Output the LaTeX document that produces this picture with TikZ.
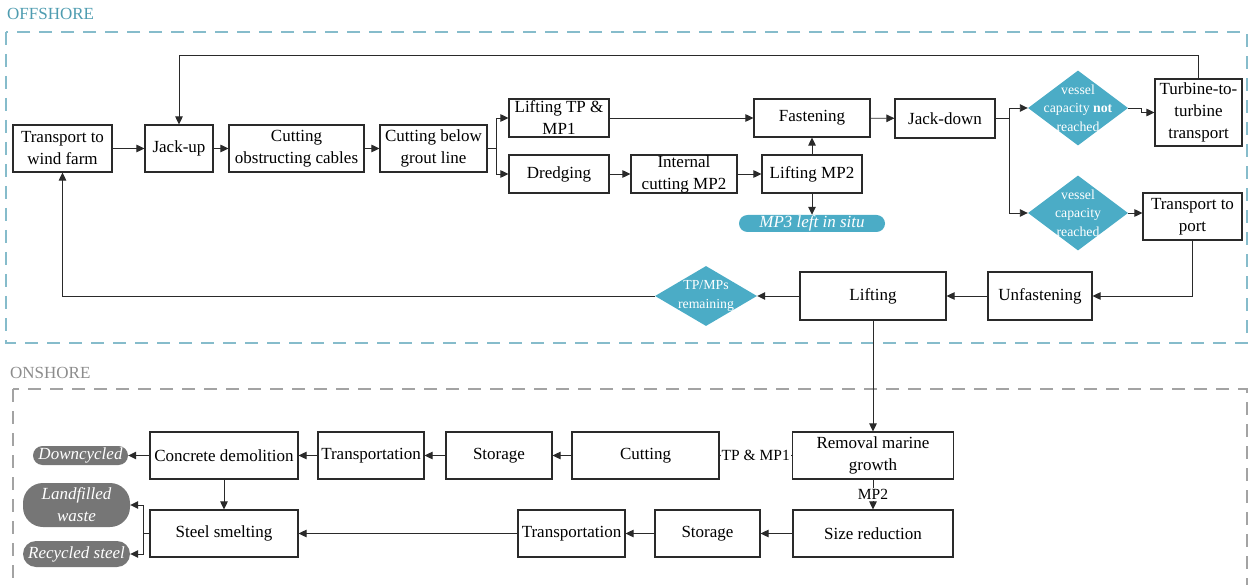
\documentclass[tikz,border=0pt]{standalone}
\usepackage{fontspec}
\setmainfont{Liberation Serif}
\usetikzlibrary{shapes.geometric,arrows.meta,calc}
\definecolor{seablue}{HTML}{4BACC6}
\definecolor{seaframe}{HTML}{86BCCB}
\definecolor{seatext}{HTML}{4E9CB0}
\definecolor{landframe}{HTML}{A3A3A3}
\definecolor{landtext}{HTML}{8C8C8C}
\definecolor{pillgray}{HTML}{767676}
\definecolor{edge}{HTML}{2A2A2A}
\newcommand{\mainsize}{\fontsize{17}{22}\selectfont}
\newcommand{\smallsize}{\fontsize{13.8}{18.5}\selectfont}
\tikzset{
  stepbox/.style={draw=edge, line width=1.1pt, fill=white, align=center,
    inner sep=0pt, font=\mainsize},
  decision/.style={diamond, fill=seablue, draw=none, inner sep=0pt},
  decisiontext/.style={text=white, align=center, font=\smallsize, inner sep=0pt},
  bluepill/.style={fill=seablue, rounded corners=8.5pt, text=white,
    font=\mainsize\itshape, inner sep=0pt, align=center},
  graypill/.style={fill=pillgray, text=white, font=\mainsize\itshape,
    inner sep=0pt, align=center},
  arr/.style={draw=edge, line width=0.9pt, -{Triangle[length=8pt,width=7.5pt]}},
  plain/.style={draw=edge, line width=0.9pt},
  lbl/.style={fill=white, inner sep=1pt, font=\fontsize{15.5}{18}\selectfont},
  frame/.style={dashed, dash pattern=on 13pt off 9pt, line width=1.6pt},
  sz/.style 2 args={minimum width=#1pt, minimum height=#2pt},
}
\begin{document}
\begin{tikzpicture}[x=1pt, y=-1pt]
\useasboundingbox (0,0) rectangle (1250,585);
\clip (0,0) rectangle (1250,585);

% zone frames
\draw[frame, draw=seaframe] (6,32) rectangle (1247,343);
\node[anchor=west, text=seatext, font=\mainsize, inner sep=0pt] (offlbl) at (7,14) {OFFSHORE};
\draw[frame, draw=landframe] (13,389) rectangle (1247,610);
\node[anchor=west, text=landtext, font=\mainsize, inner sep=0pt] (onlbl) at (10,373) {ONSHORE};

% offshore steps
\node[stepbox, sz={99}{47}] (tw) at (62.5,148.5) {Transport to\\wind farm};
\node[stepbox, sz={68}{47}] (ju) at (179,148.5) {Jack-up};
\node[stepbox, sz={135}{47}] (coc) at (296.5,148.5) {Cutting\\obstructing cables};
\node[stepbox, sz={107}{47}] (cbg) at (433.5,148.5) {Cutting below\\grout line};
\node[stepbox, sz={100}{38}] (ltp) at (559,118) {Lifting TP \&\\MP1};
\node[stepbox, sz={100}{38}] (dr) at (559,174) {Dredging};
\node[stepbox, sz={106}{38}] (icm) at (684,174) {Internal\\cutting MP2};
\node[stepbox, sz={100}{38}] (lm2) at (812,174) {Lifting MP2};
\node[stepbox, sz={116}{38}] (fa) at (812,118) {Fastening};
\node[bluepill, sz={146}{17}] (mp3) at (812,223.5) {MP3 left in situ};
\node[stepbox, sz={100}{39}] (jd) at (945,118.5) {Jack-down};
\node[decision, sz={100}{75}] (d1) at (1078,108) {};
\node[decisiontext] (d1t) at (d1) {vessel\\capacity \textbf{not}\\reached};
\node[stepbox, sz={87}{67}] (tt) at (1198.5,112.5) {Turbine-to-\\turbine\\transport};
\node[decision, sz={100}{75}] (d2) at (1078,213) {};
\node[decisiontext] (d2t) at (d2) {vessel\\capacity\\reached};
\node[stepbox, sz={99}{47}] (tp) at (1192.5,216.5) {Transport to\\port};
\node[stepbox, sz={104}{48}] (un) at (1040,296) {Unfastening};
\node[stepbox, sz={146}{48}] (li) at (873,296) {Lifting};
\node[decision, sz={102}{60}] (d3) at (706,296) {};
\node[decisiontext] (d3t) at (d3) {TP/MPs\\remaining};

% offshore connectors
\coordinate (loop) at (0,55);
\coordinate (sp1) at (496,148.5);
\coordinate (sp2) at (1009,118.5);
\draw[arr] (tw) -- (ju);
\draw[arr] (ju) -- (coc);
\draw[arr] (coc) -- (cbg);
\draw[plain] (cbg.east) -- (sp1);
\draw[arr] (sp1) |- (ltp.west);
\draw[arr] (sp1) |- (dr.west);
\draw[arr] (ltp.east) -- (fa.west |- ltp.east);
\draw[arr] (dr) -- (icm);
\draw[arr] (icm) -- (lm2);
\draw[arr] (lm2.north) -- (fa.south);
\draw[arr] (lm2.south) -- (mp3.north);
\draw[arr] (fa) -- (jd);
\draw[plain] (jd.east) -- (sp2);
\draw[arr] (sp2) |- (d1.west);
\draw[arr] (sp2) |- (d2.west);
\draw[arr] (d1.east) -- ++(13,0) |- (tt.west);
\draw[arr] (d2.east) -- (tp.west |- d2.east);
\draw[arr] (tt.north) |- (ju.north |- loop) -- (ju.north);
\draw[arr] (tp.south) |- (un.east);
\draw[arr] (un) -- (li);
\draw[arr] (li) -- (d3);
\draw[arr] (d3.west) -| (tw.south);

% onshore steps
\node[stepbox, sz={161}{47}] (rmg) at (873,455.5) {Removal marine\\growth};
\node[stepbox, sz={147}{47}] (cu) at (645.5,455.5) {Cutting};
\node[stepbox, sz={106}{47}] (st1) at (499,455.5) {Storage};
\node[stepbox, sz={106}{47}] (tr1) at (371,455.5) {Transportation};
\node[stepbox, sz={148}{47}] (cd) at (224,455.5) {Concrete demolition};
\node[graypill, sz={95}{19}, rounded corners=9.5pt] (dc) at (80.5,455.5) {Downcycled};
\node[graypill, sz={107}{44}, rounded corners=20pt] (lw) at (76.5,505) {Landfilled\\waste};
\node[graypill, sz={107}{26}, rounded corners=13pt] (rs) at (76.5,554) {Recycled steel};
\node[stepbox, sz={148}{47}] (ss) at (224,533.5) {Steel smelting};
\node[stepbox, sz={160}{47}] (sr) at (873,533.5) {Size reduction};
\node[stepbox, sz={105}{47}] (st2) at (707.5,533.5) {Storage};
\node[stepbox, sz={107}{47}] (tr2) at (571.5,533.5) {Transportation};

% onshore connectors
\coordinate (sp3) at (143,533.5);
\draw[arr] (li.south) -- (rmg.north);
\draw[arr] (rmg.west) -- node[lbl] (lblA) {TP \& MP1} (cu.east);
\draw[arr] (cu) -- (st1);
\draw[arr] (st1) -- (tr1);
\draw[arr] (tr1) -- (cd);
\draw[arr] (cd) -- (dc);
\draw[arr] (cd.south) -- (ss.north);
\draw[arr] (rmg.south) -- node[lbl] (lblB) {MP2} (sr.north);
\draw[arr] (sr) -- (st2);
\draw[arr] (st2) -- (tr2);
\draw[arr] (tr2) -- (ss);
\draw[plain] (ss.west) -- (sp3);
\draw[arr] (sp3) |- (lw.east);
\draw[arr] (sp3) |- (rs.east);
\end{tikzpicture}
\end{document}
